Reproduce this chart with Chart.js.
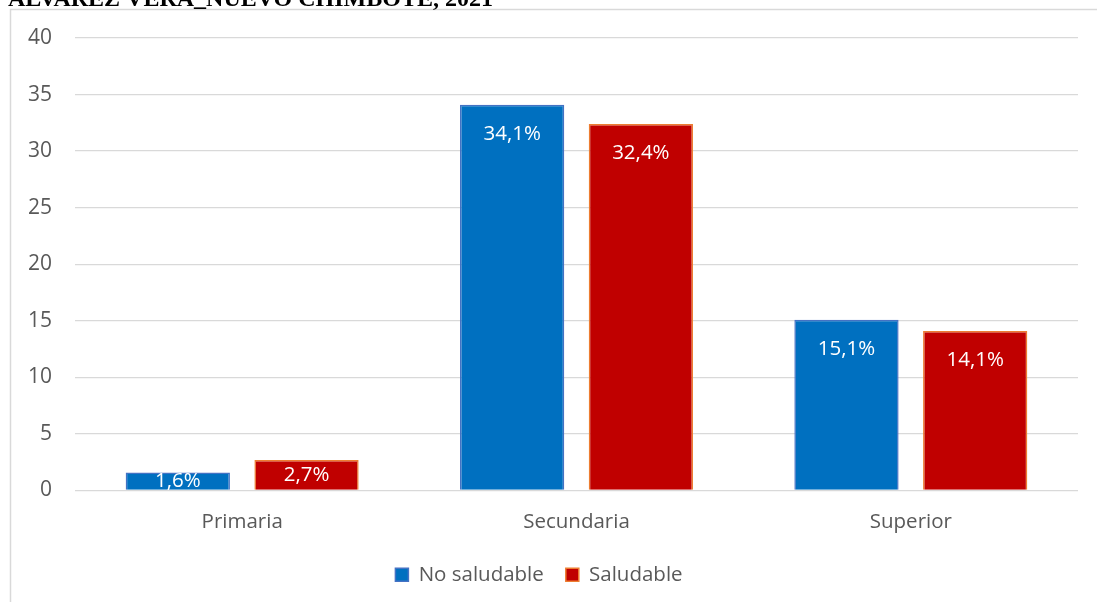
<!DOCTYPE html>
<html>
<head>
<meta charset="utf-8">
<script src="https://cdn.jsdelivr.net/npm/chart.js@4.4.1/dist/chart.umd.min.js"></script>
<style>
  html, body { margin: 0; padding: 0; background: #fff; }
  #wrap { position: relative; width: 1097px; height: 602px; overflow: hidden; }
</style>
</head>
<body>
<div id="wrap"><canvas id="grafico" width="1097" height="602"></canvas></div>
<script>
// niveles de instruccion y porcentajes por grupo
const categorias = ['Primaria', 'Secundaria', 'Superior'];
const noSaludable = [1.6, 34.1, 15.1];
const saludable = [2.7, 32.4, 14.1];
const tituloTexto = 'ALVAREZ VERA_NUEVO CHIMBOTE, 2021';

// marco gris y titulo recortado arriba
const marco = {
  id: 'marco',
  beforeDraw(chart) {
    const ctx = chart.ctx;
    ctx.save();
    ctx.fillStyle = '#fff';
    ctx.fillRect(0, 0, chart.width, chart.height);
    ctx.strokeStyle = '#d9d9d9';
    ctx.lineWidth = 1.5;
    ctx.strokeRect(10.5, 9.5, 1200, 700);
    ctx.fillStyle = '#000';
    ctx.font = 'bold 24px "Liberation Serif", "Times New Roman", serif';
    ctx.textBaseline = 'alphabetic';
    ctx.fillText(tituloTexto, 8, 6);
    ctx.restore();
  }
};

// etiquetas de valor dentro del extremo de cada barra
const etiquetas = {
  id: 'etiquetas',
  afterDatasetsDraw(chart) {
    const ctx = chart.ctx;
    ctx.save();
    ctx.fillStyle = '#fff';
    ctx.font = '20.5px "Open Sans", sans-serif';
    ctx.textAlign = 'center';
    ctx.textBaseline = 'middle';
    chart.data.datasets.forEach((ds, i) => {
      chart.getDatasetMeta(i).data.forEach((bar, j) => {
        const y = Math.min(bar.y + 29, (bar.y + bar.base) / 2);
        ctx.fillText(ds.data[j].toFixed(1).replace('.', ',') + '%', bar.x, y);
      });
    });
    ctx.restore();
  }
};

new Chart(document.getElementById('grafico'), {
  type: 'bar',
  data: {
    labels: categorias,
    datasets: [
      {
        label: 'No saludable',
        data: noSaludable,
        backgroundColor: '#0070c0',
        borderColor: '#4472c4',
        borderWidth: 1.5
      },
      {
        label: 'Saludable',
        data: saludable,
        backgroundColor: '#c00000',
        borderColor: '#ed7d31',
        borderWidth: 1.5
      }
    ]
  },
  options: {
    responsive: false,
    animation: false,
    categoryPercentage: 0.77,
    barPercentage: 0.81,
    layout: { padding: { top: 38, right: 19, left: 0, bottom: 7 } },
    scales: {
      x: {
        grid: { display: false },
        border: { display: false },
        ticks: { color: '#595959', font: { family: 'Open Sans', size: 20.5 }, padding: 11 },
        afterFit(scale) { scale.height = 52; }
      },
      y: {
        min: 0,
        max: 40,
        ticks: { stepSize: 5, color: '#595959', font: { family: 'Open Sans', size: 21 }, padding: 23 },
        grid: { color: '#d9d9d9', lineWidth: 1.3, drawTicks: false },
        border: { display: false },
        afterFit(scale) { scale.width = 75; }
      }
    },
    plugins: {
      legend: {
        position: 'bottom',
        labels: {
          color: '#595959',
          font: { family: 'Open Sans', size: 20.5 },
          boxWidth: 13,
          boxHeight: 13,
          padding: 22
        }
      },
      tooltip: { enabled: false }
    }
  },
  plugins: [marco, etiquetas]
});
</script>
</body>
</html>
